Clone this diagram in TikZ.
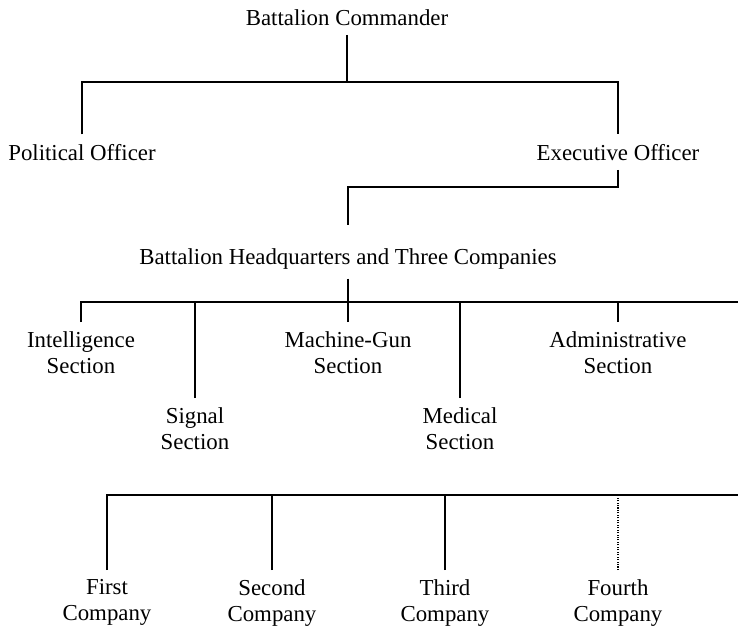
\documentclass[tikz,border=0pt]{standalone}
\usepackage{fontspec}
\setmainfont{Liberation Serif}
\usepackage{tikz}

\begin{document}
\begin{tikzpicture}[x=0.02cm,y=-0.02cm,line width=0.9pt,
		unitbox/.style={font=\fontsize{13}{14.8}\selectfont,align=center,inner sep=0pt,outer sep=5.5pt},
		officer/.style={unitbox,anchor=base},
		branch/.style={unitbox,anchor=north}]
		\useasboundingbox (0,0) rectangle (738,629);
		% command
		\node[officer] (bc) at (347,25) {Battalion Commander};
		\node[officer] (po) at (82,160) {Political Officer};
		\node[officer] (eo) at (618,160) {Executive Officer};
		\node[officer] (hq) at (348,264) {Battalion Headquarters and Three Companies};
		% sections
		\node[branch] (intel) at (81,322) {Intelligence\\Section};
		\node[branch] (signal) at (195,398) {Signal\\Section};
		\node[branch] (mg) at (348,322) {Machine-Gun\\Section};
		\node[branch] (medical) at (460,398) {Medical\\Section};
		\node[branch] (admin) at (618,322) {Administrative\\Section};
		% companies
		\node[branch] (first) at (107,570) {First\\Company};
		\node[branch] (second) at (272,570) {Second\\Company};
		\node[branch] (third) at (445,570) {Third\\Company};
		\node[branch] (fourth) at (618,570) {Fourth\\Company};
		\coordinate (h1) at (347,82);
		\coordinate (h2) at (348,187);
		\coordinate (h3) at (348,302);
		\coordinate (h3e) at (738,302);
		\coordinate (h4e) at (738,495);
		\draw (bc) -- (h1);
		\draw (po) |- (h1) -| (eo);
		\draw[shorten >=7.8pt] (eo) |- (h2) -- (hq);
		\draw (hq) -- (h3);
		\draw (intel) |- (h3e);
		\foreach \s in {signal,mg,medical,admin}
			\draw (\s) -- (\s |- h3);
		\draw (first) |- (h4e);
		\foreach \c in {second,third}
			\draw (\c) -- (\c |- h4e);
		\draw[dash pattern=on 0.6pt off 0.8pt] (fourth) -- (fourth |- h4e);
	\end{tikzpicture}
\end{document}
